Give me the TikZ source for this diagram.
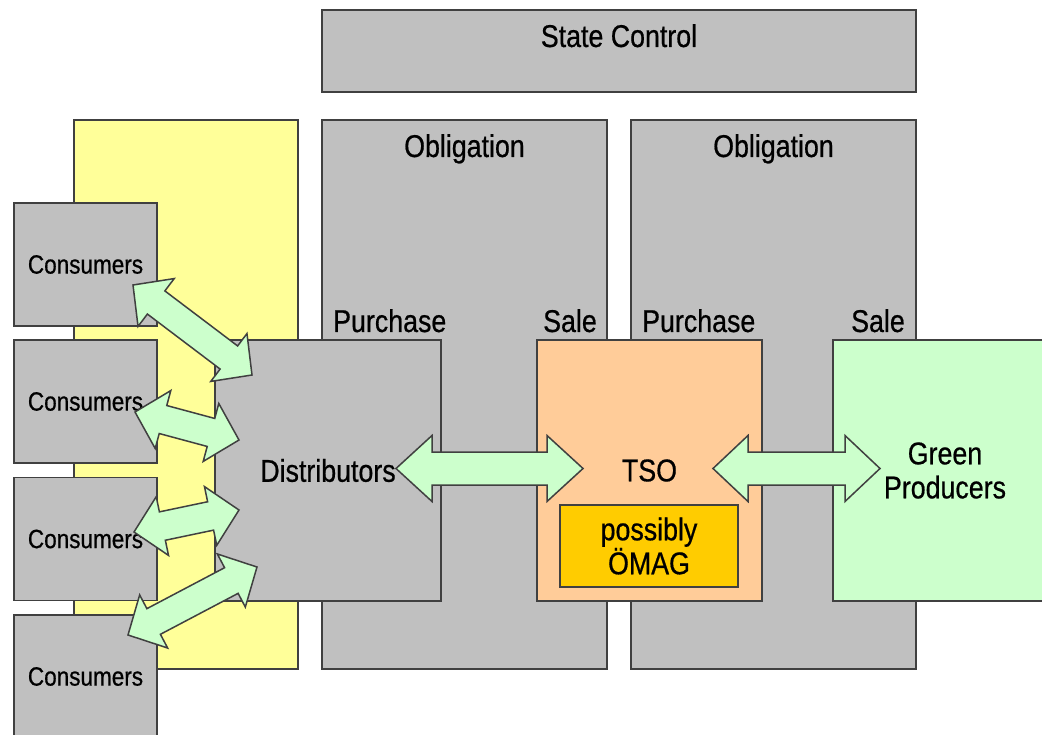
\documentclass[tikz,border=0pt]{standalone}
\usepackage{fontspec}
\setmainfont[FakeStretch=0.85, FakeBold=0.6]{Liberation Sans}
\usetikzlibrary{calc}

\definecolor{panelgray}{HTML}{C0C0C0}
\definecolor{marketyellow}{HTML}{FFFF99}
\definecolor{tsoorange}{HTML}{FFCC99}
\definecolor{omaggold}{HTML}{FFCC00}
\definecolor{flowgreen}{HTML}{CCFFCC}

% fat double arrow between two named points: from, to, shaft half, head half, head length
\newcommand{\fatarrow}[5]{%
  \draw[flowarrow] let \p1=(#1), \p2=(#2), \n1={atan2(\y2-\y1,\x2-\x1)}, \n2={veclen(\x2-\x1,\y2-\y1)} in
    [shift={(\p1)}, rotate=\n1]
    (0pt,0pt) -- (#5,#4) -- (#5,#3) -- ({\n2-#5},#3) -- ({\n2-#5},#4) -- (\n2,0pt)
    -- ({\n2-#5},-#4) -- ({\n2-#5},-#3) -- (#5,-#3) -- (#5,-#4) -- cycle;}

\begin{document}
\begin{tikzpicture}[x=1pt, y=-1pt,
    panel/.style={rectangle, draw=black!75, line width=1.8pt, fill=panelgray, inner sep=0pt},
    consumer/.style={panel, minimum width=143pt, minimum height=123pt, font=\fontsize{26.5}{30}\selectfont},
    lbl/.style={inner sep=0pt, font=\fontsize{31.5}{34}\selectfont},
    flowarrow/.style={draw=black!75, line width=1.5pt, fill=flowgreen, line join=miter}
]
\useasboundingbox (0,0) rectangle (1042,735);
\clip (0,0) rectangle (1042,735);

% top level
\node[panel, minimum width=594pt, minimum height=82pt] (state) at (619,51) {};
\node[lbl, anchor=base] (statetext) at (619,47) {State Control};

% market area and obligation columns
\node[panel, fill=marketyellow, minimum width=224pt, minimum height=549pt] (market) at (186,394.5) {};
\node[panel, minimum width=285pt, minimum height=549pt] (obl1) at (464.5,394.5) {};
\node[panel, minimum width=285pt, minimum height=549pt] (obl2) at (773.5,394.5) {};
\node[lbl, anchor=base] (obl1text) at (464.5,157) {Obligation};
\node[lbl, anchor=base] (obl2text) at (773.5,157) {Obligation};
\node[lbl, anchor=base west] (buy1) at (333,332) {Purchase};
\node[lbl, anchor=base east] (sell1) at (597,332) {Sale};
\node[lbl, anchor=base west] (buy2) at (642,332) {Purchase};
\node[lbl, anchor=base east] (sell2) at (905,332) {Sale};

% consumers
\foreach \i/\y in {1/264.5, 2/401.5, 3/539, 4/676.5}
  \node[consumer] (cons\i) at (85.5,\y) {Consumers};

% actors
\node[panel, lbl, minimum width=226pt, minimum height=261pt] (dist) at (328,470.5) {Distributors};
\node[panel, lbl, fill=tsoorange, minimum width=225pt, minimum height=261pt] (tso) at (649.5,470.5) {TSO};
\node[panel, lbl, fill=omaggold, minimum width=178pt, minimum height=82pt, align=center] (omag) at (649,546) {possibly\\ÖMAG};
\node[panel, lbl, fill=flowgreen, minimum width=224pt, minimum height=261pt, align=center] (green) at (945,470.5) {Green\\Producers};

% arrow ends
\coordinate (c1) at (133,285);  \coordinate (d1) at (252,375);
\coordinate (c2) at (135,412);  \coordinate (d2) at (239,440);
\coordinate (c3) at (134,532);  \coordinate (d3) at (239,510);
\coordinate (c4) at (128,635);  \coordinate (d4) at (257,567);
\coordinate (dt) at (396,468.5); \coordinate (td) at (583,468.5);
\coordinate (tg) at (713,468.5); \coordinate (gt) at (880,468.5);

% flows
\foreach \i in {1,...,4}{
  \fatarrow{c\i}{d\i}{14.5pt}{30pt}{29pt}
}
\fatarrow{dt}{td}{16.5pt}{33pt}{36pt}
\fatarrow{tg}{gt}{16.5pt}{33pt}{35pt}
\end{tikzpicture}
\end{document}
